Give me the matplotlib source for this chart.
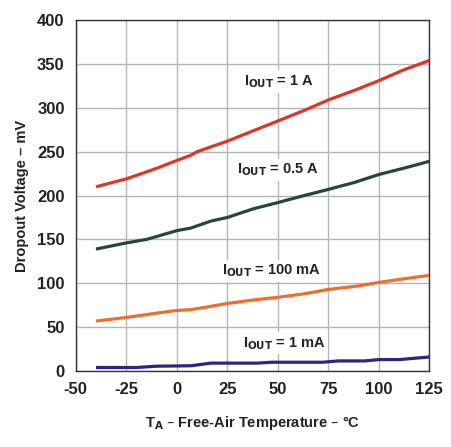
import matplotlib.pyplot as plt
import numpy as np

plt.rcParams['font.family'] = ['Liberation Sans', 'DejaVu Sans']
plt.rcParams['font.weight'] = 'bold'
plt.rcParams['axes.unicode_minus'] = False

# data (temperature in C, dropout in mV)
t_1a = [-40, -25, -10, 0, 7, 10, 25, 38, 50, 63, 75, 88, 100, 112, 125]
v_1a = [210, 219, 231, 240, 246, 250, 262, 274, 285, 297, 309, 320, 331, 343, 354]

t_05a = [-40, -25, -15, 0, 7, 17, 25, 38, 50, 63, 75, 88, 100, 112, 125]
v_05a = [139, 146, 150, 160, 163, 171, 175, 185, 192, 200, 207, 215, 224, 231, 239]

t_100ma = [-40, -25, -10, 0, 7, 15, 25, 38, 50, 63, 75, 90, 100, 112, 125]
v_100ma = [57, 61, 66, 69, 70, 73, 77, 81, 84, 88, 93, 97, 101, 105, 109]

t_1ma = [-40, -20, -10, 7, 17, 40, 47, 72, 80, 93, 100, 110, 125]
v_1ma = [4, 4, 5.5, 6, 9, 9, 10, 10, 11.5, 11.5, 13, 13, 16]

series = [
    (t_1a, v_1a, '#e0342b', '1 A', 50.5, 330),
    (t_05a, v_05a, '#27463a', '0.5 A', 50, 229),
    (t_100ma, v_100ma, '#ef6d2d', '100 mA', 47, 114),
    (t_1ma, v_1ma, '#30247e', '1 mA', 53, 31.5),
]

fig = plt.figure(figsize=(4.51, 4.47), dpi=100)
ax = fig.add_axes([0.168, 0.170, 0.784, 0.785])

for t, v, c, lab, lx, ly in series:
    ax.plot(t, v, color=c, lw=2.3, solid_capstyle='butt', zorder=3)
    ax.text(lx, ly, r'I$_{\mathbf{OUT}}$ = ' + lab, ha='center', va='center',
            fontsize=10.5, fontweight='bold', color='#222222', zorder=4,
            bbox=dict(facecolor='white', edgecolor='none', pad=2))

ax.set_xlim(-50, 125)
ax.set_ylim(0, 400)
ax.set_xticks(np.arange(-50, 126, 25))
ax.set_yticks(np.arange(0, 401, 50))
ax.grid(True, color='#b4b4bc', lw=1.0)
ax.set_axisbelow(True)
ax.tick_params(length=0, labelsize=12, pad=8, colors='#222222')
for lbl in ax.get_xticklabels() + ax.get_yticklabels():
    lbl.set_fontweight('bold')
for s in ax.spines.values():
    s.set_color('#333333')
    s.set_linewidth(1.0)

ax.set_xlabel(r'T$_{\mathbf{A}}$ – Free-Air Temperature – °C', fontsize=10.5,
              fontweight='bold', color='#222222', labelpad=12)
ax.set_ylabel('Dropout Voltage – mV', fontsize=10.5, fontweight='bold',
              color='#222222', labelpad=6)

fig.savefig('out.png', dpi=100)
